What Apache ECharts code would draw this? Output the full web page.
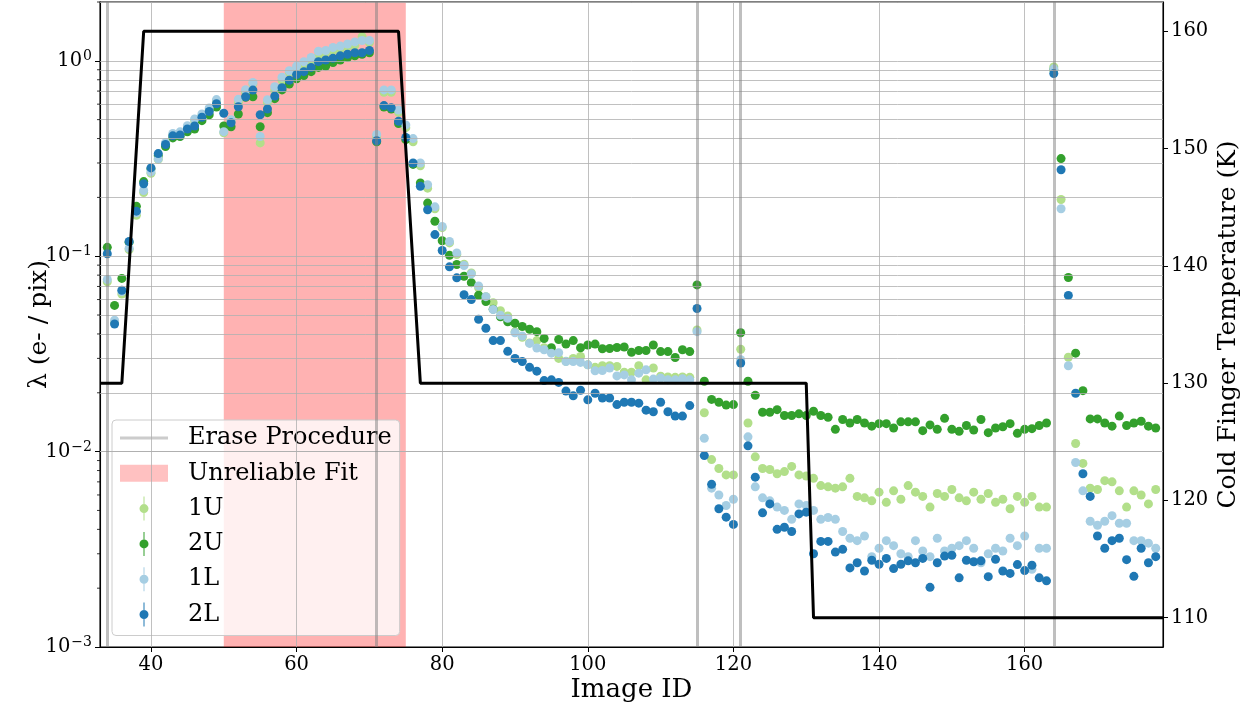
<!DOCTYPE html>
<html><head><meta charset="utf-8">
<script src="https://cdn.jsdelivr.net/npm/echarts@6/dist/echarts.min.js"></script>
<style>html,body{margin:0;padding:0;background:#fff}#c{width:1256px;height:711px}</style>
</head><body><div id="c"></div>
<script>
// ---- data (image IDs start at 34, one value per image) ----
const firstId = 34;
const s1U = [0.074,0.046,0.064,0.108,0.162,0.212,0.266,0.313,0.370,0.418,0.428,0.455,0.494,0.523,0.560,0.620,0.428,0.494,0.612,0.690,0.760,0.380,0.610,0.705,0.795,0.870,0.910,0.950,1.00,1.06,1.10,1.125,1.15,1.18,1.20,1.33,1.24,0.410,0.690,0.690,0.545,0.455,0.385,0.290,0.223,0.175,0.140,0.117,0.102,0.091,0.082,0.069,0.062,0.0578,0.0526,0.0495,0.0410,0.0385,0.0360,0.0370,0.0340,0.0325,0.0300,0.0290,0.0300,0.0307,0.0278,0.0270,0.0275,0.0275,0.0273,0.0255,0.0255,0.0275,0.0233,0.0268,0.0243,0.0241,0.0240,0.0241,0.0240,0.0419,0.0158,0.0091,0.0082,0.0076,0.0076,0.0334,0.0140,0.0094,0.0082,0.0081,0.0077,0.0079,0.0084,0.0076,0.0075,0.0073,0.0067,0.0066,0.0065,0.0066,0.0073,0.0059,0.0058,0.0056,0.0062,0.0055,0.0063,0.0057,0.0067,0.0062,0.0059,0.0052,0.0061,0.0059,0.0064,0.0058,0.0056,0.0062,0.0057,0.0061,0.0055,0.0057,0.0051,0.0059,0.0055,0.0059,0.0052,0.0052,0.93,0.195,0.0304,0.0110,0.0087,0.0065,0.0064,0.0071,0.0070,0.0063,0.0052,0.0063,0.0060,0.0054,0.0064];
const s2U = [0.111,0.056,0.077,0.118,0.180,0.241,0.280,0.327,0.364,0.403,0.410,0.433,0.448,0.494,0.530,0.580,0.464,0.460,0.534,0.650,0.655,0.460,0.543,0.640,0.710,0.760,0.810,0.840,0.880,0.925,0.940,0.980,1.01,1.04,1.06,1.08,1.10,0.385,0.580,0.567,0.478,0.395,0.295,0.237,0.187,0.151,0.120,0.101,0.0907,0.0790,0.0732,0.0631,0.0586,0.0536,0.0490,0.0462,0.0454,0.0437,0.0423,0.0411,0.0379,0.0340,0.0375,0.0355,0.0370,0.0340,0.0351,0.0355,0.0336,0.0337,0.0341,0.0343,0.0322,0.0329,0.0329,0.0351,0.0325,0.0325,0.0303,0.0332,0.0325,0.0713,0.0229,0.0185,0.0179,0.0173,0.0174,0.0406,0.0229,0.0194,0.0159,0.0159,0.0164,0.0153,0.0153,0.0156,0.0153,0.0161,0.0153,0.0150,0.0130,0.0146,0.0140,0.0146,0.0140,0.0135,0.0139,0.0139,0.0132,0.0142,0.0142,0.0142,0.0128,0.0137,0.0130,0.0148,0.0130,0.0127,0.0136,0.0129,0.0146,0.0125,0.0132,0.0134,0.0139,0.0124,0.0130,0.0131,0.0136,0.0140,0.90,0.316,0.0778,0.0319,0.0205,0.0147,0.0147,0.0140,0.0135,0.0152,0.0136,0.0140,0.0143,0.0135,0.0132];
const s1L = [0.076,0.047,0.066,0.110,0.167,0.217,0.270,0.315,0.381,0.425,0.433,0.465,0.504,0.534,0.574,0.633,0.434,0.500,0.635,0.711,0.775,0.410,0.632,0.737,0.825,0.890,0.940,0.990,1.04,1.12,1.13,1.17,1.19,1.22,1.25,1.27,1.27,0.420,0.710,0.710,0.560,0.470,0.400,0.300,0.232,0.179,0.142,0.119,0.104,0.0896,0.0812,0.0705,0.0621,0.0534,0.0498,0.0481,0.0406,0.0390,0.0358,0.0339,0.0332,0.0319,0.0321,0.0289,0.0289,0.0286,0.0278,0.0259,0.0260,0.0268,0.0244,0.0247,0.0233,0.0252,0.0262,0.0235,0.0238,0.0233,0.0233,0.0236,0.0233,0.0411,0.0117,0.0065,0.0060,0.0053,0.0057,0.0295,0.0119,0.0066,0.0058,0.0056,0.0052,0.0050,0.0045,0.0054,0.0053,0.0050,0.0045,0.0046,0.0045,0.0039,0.0036,0.0035,0.0037,0.0029,0.0032,0.0035,0.0033,0.0030,0.0029,0.0035,0.0031,0.0029,0.0036,0.0031,0.0032,0.0033,0.0035,0.0032,0.0027,0.0030,0.0032,0.0031,0.0036,0.0033,0.0037,0.0025,0.0032,0.0032,0.91,0.175,0.0275,0.0088,0.0063,0.0044,0.0042,0.0044,0.0047,0.0043,0.0043,0.0035,0.0035,0.0034,0.0032];
const s2L = [0.103,0.045,0.067,0.119,0.170,0.235,0.283,0.335,0.373,0.413,0.417,0.448,0.464,0.514,0.550,0.603,0.539,0.482,0.582,0.655,0.708,0.530,0.567,0.660,0.728,0.795,0.850,0.880,0.925,0.990,1.01,1.03,1.06,1.08,1.10,1.10,1.13,0.390,0.590,0.575,0.490,0.405,0.300,0.228,0.173,0.129,0.107,0.0882,0.0775,0.0635,0.0600,0.0476,0.0428,0.0370,0.0370,0.0326,0.0300,0.0289,0.0270,0.0258,0.0231,0.0233,0.0226,0.0204,0.0193,0.0206,0.0184,0.0199,0.0188,0.0188,0.0174,0.0179,0.0179,0.0177,0.0163,0.0160,0.0179,0.0160,0.0152,0.0152,0.0172,0.0540,0.00954,0.0068,0.0051,0.00462,0.00424,0.0284,0.0107,0.0074,0.00486,0.0054,0.0040,0.0041,0.0039,0.0048,0.0049,0.0030,0.00347,0.00347,0.00306,0.00316,0.00254,0.0027,0.00245,0.00278,0.00265,0.00284,0.00252,0.00265,0.00276,0.0027,0.00284,0.00202,0.0027,0.00292,0.00295,0.00226,0.00278,0.00273,0.00276,0.00229,0.00281,0.00245,0.00238,0.00264,0.00246,0.00262,0.00226,0.00218,0.86,0.277,0.063,0.0199,0.0077,0.0059,0.0037,0.0032,0.0035,0.0036,0.0028,0.0023,0.0032,0.0027,0.0029];
const eraseIds = [34, 71, 115, 121, 164];
const unreliableRange = [50, 75];
const tempIds = [33, 36, 39, 74, 77, 130, 131, 179];
const tempK   = [130, 130, 160, 160, 130, 130, 110, 110];
const xTicks = [40, 60, 80, 100, 120, 140, 160];
const yDecades = [0.001, 0.01, 0.1, 1];
const yMinorMult = [2, 3, 4, 5, 6, 7, 8, 9];
const tempTicks = [110, 120, 130, 140, 150, 160];

const FONT = "'DejaVu Serif', serif";
const ids = s1U.map((_, i) => firstId + i);
const pts = arr => arr.map((v, i) => [ids[i], v]);
const yGrid = [], yMinor = [];
yDecades.forEach(d => {
  yGrid.push(d);
  yMinorMult.forEach(m => { if (m * d <= 2.0001) { yGrid.push(m * d); yMinor.push(m * d); } });
});

const ebIcon = 'path://M4,0 L5,0 L5,24 L4,24 Z M0,12 A4.5,4.5 0 1 1 9,12 A4.5,4.5 0 1 1 0,12 Z';

const chart = echarts.init(document.getElementById('c'), null, {renderer: 'canvas'});
const option = {
  animation: false,
  textStyle: {fontFamily: FONT},
  grid: {left: 100, right: 93, top: 2, bottom: 64, show: true, borderColor: '#000', borderWidth: 1.1, backgroundColor: 'transparent'},
  xAxis: {
    type: 'value', min: 33, max: 179,
    axisLine: {show: true, lineStyle: {color: '#000', width: 1.1}},
    axisTick: {show: true, length: 5, lineStyle: {color: '#000', width: 1}, customValues: xTicks},
    axisLabel: {customValues: xTicks, fontSize: 19.5, color: '#000', margin: 8, fontFamily: FONT},
    splitLine: {show: false},
    name: 'Image ID', nameLocation: 'middle', nameGap: 30, nameMoveOverlap: false,
    nameTextStyle: {fontSize: 26, color: '#000', fontFamily: FONT}
  },
  yAxis: [{
    type: 'log', logBase: 10, min: 0.001, max: 2,
    axisLine: {show: true, lineStyle: {color: '#000', width: 1.1}},
    axisTick: {show: true, length: 5, lineStyle: {color: '#000'}},
    axisLabel: {
      color: '#000', margin: 8, showMaxLabel: false,
      formatter: function (v) {
        const e = Math.log10(v), r = Math.round(e);
        if (Math.abs(e - r) > 1e-6) return '';
        return '{b|10}{s|' + (r < 0 ? '\u2212' + (-r) : r) + '}';
      },
      rich: {
        b: {fontSize: 19.5, fontFamily: FONT, color: '#000'},
        s: {fontSize: 14, fontFamily: FONT, color: '#000', padding: [0, 0, 9, 1]}
      }
    },
    splitLine: {show: false},
    name: '\u03bb (e- / pix)', nameLocation: 'middle', nameGap: 48, nameRotate: 90, nameMoveOverlap: false,
    nameTextStyle: {fontSize: 25, color: '#000', fontFamily: FONT}
  }, {
    type: 'value', position: 'right', min: 107.5, max: 162.5,
    axisLine: {show: true, lineStyle: {color: '#000', width: 1.1}},
    axisTick: {show: true, length: 5, lineStyle: {color: '#000'}, customValues: tempTicks},
    axisLabel: {customValues: tempTicks, fontSize: 19.5, color: '#000', margin: 8, fontFamily: FONT},
    splitLine: {show: false},
    name: 'Cold Finger Temperature (K)', nameLocation: 'middle', nameGap: 53, nameRotate: 90, nameMoveOverlap: false,
    nameTextStyle: {fontSize: 25, color: '#000', fontFamily: FONT}
  }],
  legend: {
    orient: 'vertical', left: 112, top: 420,
    padding: [6, 8, 9, 8], itemGap: 11.3, itemWidth: 48, itemHeight: 24,
    symbolKeepAspect: true,
    backgroundColor: 'rgba(255,255,255,0.8)', borderColor: '#cccccc', borderWidth: 1, borderRadius: 4,
    textStyle: {fontSize: 24, fontFamily: FONT, color: '#000', padding: [0, 0, 0, 15]},
    selectedMode: false,
    data: [
      {name: 'Erase Procedure', icon: 'path://M0,0 L48,0 L48,3 L0,3 Z'},
      {name: 'Unreliable Fit', icon: 'path://M0,0 L48,0 L48,17 L0,17 Z'},
      {name: '1U', icon: ebIcon},
      {name: '2U', icon: ebIcon},
      {name: '1L', icon: ebIcon},
      {name: '2L', icon: ebIcon}
    ]
  },
  series: [
    {
      name: 'Unreliable Fit', type: 'scatter', data: [], z: 1,
      itemStyle: {color: 'rgba(255,0,0,0.3)'},
      markArea: {silent: true, itemStyle: {color: 'rgba(255,0,0,0.3)'}, label: {show: false},
        data: [[{xAxis: unreliableRange[0]}, {xAxis: unreliableRange[1]}]]}
    },
    {
      name: '_grid', type: 'scatter', data: [], z: 2,
      markLine: {silent: true, symbol: ['none', 'none'], label: {show: false},
        lineStyle: {color: '#b0b0b0', width: 0.8, type: 'solid'},
        emphasis: {disabled: true},
        data: xTicks.map(v => ({xAxis: v})).concat(yGrid.map(v => ({yAxis: v})))}
    },
    {
      name: '_minorTicks', type: 'custom', data: yMinor.map(v => [33, v]), z: 6, clip: false, silent: true,
      renderItem: function (params, api) {
        const p = api.coord([api.value(0), api.value(1)]);
        return {type: 'line', shape: {x1: p[0] - 3, y1: p[1], x2: p[0], y2: p[1]}, style: {stroke: '#000', lineWidth: 0.8}};
      }
    },
    {
      name: 'Erase Procedure', type: 'scatter', data: [], z: 2,
      itemStyle: {color: 'rgba(128,128,128,0.5)'},
      markLine: {silent: true, symbol: ['none', 'none'], label: {show: false},
        lineStyle: {color: 'rgba(128,128,128,0.5)', width: 3, type: 'solid'},
        emphasis: {disabled: true},
        data: eraseIds.map(v => ({xAxis: v}))}
    },
    {name: '1U', type: 'scatter', data: pts(s1U), symbolSize: 9, z: 3, itemStyle: {color: '#b2df8a', opacity: 1}},
    {name: '2U', type: 'scatter', data: pts(s2U), symbolSize: 9, z: 3, itemStyle: {color: '#33a02c', opacity: 1}},
    {name: '1L', type: 'scatter', data: pts(s1L), symbolSize: 9, z: 3, itemStyle: {color: '#a6cee3', opacity: 1}},
    {name: '2L', type: 'scatter', data: pts(s2L), symbolSize: 9, z: 3, itemStyle: {color: '#1f78b4', opacity: 1}},
    {
      name: 'Temperature', type: 'line', yAxisIndex: 1, z: 5,
      data: tempIds.map((x, i) => [x, tempK[i]]),
      showSymbol: false, symbol: 'none',
      lineStyle: {color: '#000', width: 3}
    }
  ]
};
chart.setOption(option);
</script>
</body></html>
